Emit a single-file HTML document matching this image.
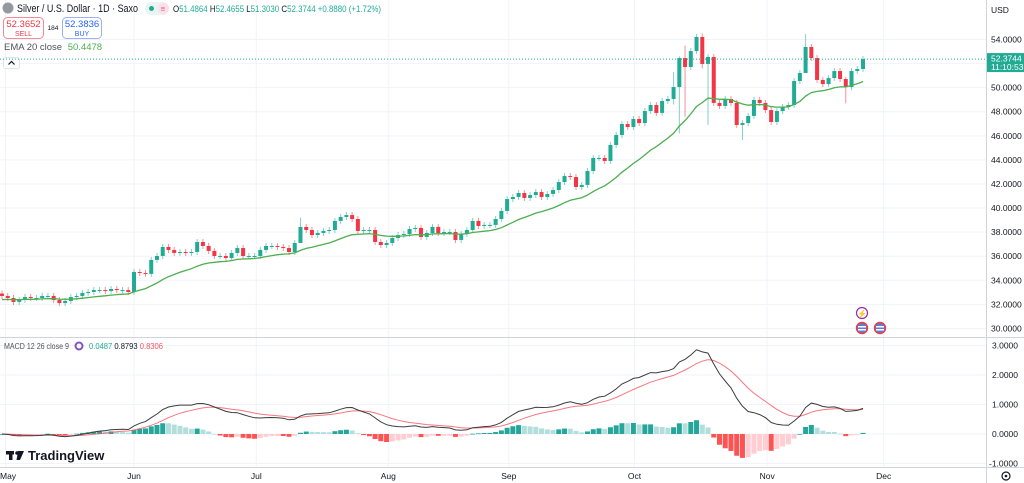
<!DOCTYPE html>
<html><head><meta charset="utf-8">
<style>
html,body{margin:0;padding:0;background:#fff;}
body{width:1024px;height:483px;overflow:hidden;font-family:"Liberation Sans",sans-serif;}
svg{display:block;}
text{font-family:"Liberation Sans",sans-serif;}
</style></head>
<body>
<svg id="chart" width="1024" height="483" viewBox="0 0 1024 483" xmlns="http://www.w3.org/2000/svg">
  <g id="grid"></g>
  <g id="candles"></g>
  <g id="ema"></g>
  <g id="macd"></g>
  <g id="axes"></g>

  <line x1="0" y1="337.5" x2="1024" y2="337.5" stroke="#d1d4dc" stroke-width="1"/>
  <line x1="986.5" y1="0" x2="986.5" y2="483" stroke="#d1d4dc" stroke-width="1"/>
  <line x1="0" y1="467.5" x2="1024" y2="467.5" stroke="#d1d4dc" stroke-width="1"/>

  <g>
    <circle cx="8" cy="8" r="5.5" fill="#9598a1"/>
    <text x="17" y="12" font-size="11" fill="#131722" textLength="121" lengthAdjust="spacingAndGlyphs">Silver / U.S. Dollar · 1D · Saxo</text>
    <rect x="145" y="2" width="24" height="13" rx="6.5" fill="#e8f5f2"/>
    <circle cx="151.5" cy="8.5" r="2.5" fill="#22ab94"/>
    <rect x="158" y="3" width="11" height="11" rx="5" fill="#fbe0ea"/>
    <text x="160.5" y="11.5" font-size="8" fill="#e0557a">≡</text>
    <text x="173" y="12" font-size="9.5" fill="#22ab94" textLength="208" lengthAdjust="spacingAndGlyphs"><tspan fill="#131722">O</tspan>51.4864 <tspan fill="#131722">H</tspan>52.4655 <tspan fill="#131722">L</tspan>51.3030 <tspan fill="#131722">C</tspan>52.3744 +0.8880 (+1.72%)</text>
  </g>
  <g>
    <rect x="3.5" y="17.5" width="40" height="21" rx="4" fill="#fff" stroke="#f28b94"/>
    <text x="23.5" y="27" font-size="9.5" fill="#f23645" text-anchor="middle">52.3652</text>
    <text x="23.5" y="36" font-size="7" fill="#f23645" text-anchor="middle">SELL</text>
  </g>
  <text x="53" y="30" font-size="6.5" fill="#131722" text-anchor="middle">184</text>
  <g>
    <rect x="62.5" y="17.5" width="39" height="21" rx="4" fill="#fff" stroke="#9bb3f5"/>
    <text x="82" y="27" font-size="9.5" fill="#2962ff" text-anchor="middle">52.3836</text>
    <text x="82" y="36" font-size="7" fill="#2962ff" text-anchor="middle">BUY</text>
  </g>
  <text x="4" y="50" font-size="9.5" fill="#50535e">EMA 20 close <tspan fill="#4caf50" dx="3">50.4478</tspan></text>
  <g>
    <rect x="3.5" y="57.5" width="16" height="11" rx="2" fill="#fff" stroke="#e0e3eb"/>
    <path d="M8.5 64.5 L11.5 61.5 L14.5 64.5" fill="none" stroke="#131722" stroke-width="1.2"/>
  </g>
  <text x="991" y="13" font-size="8.5" fill="#131722">USD</text>

  <line id="lastLine" x1="0" x2="986" stroke="#22ab94" stroke-dasharray="1,2" stroke-width="1"/>
  <g id="lastLabel"></g>

  <g>
    <circle cx="862" cy="313" r="5.5" fill="#fff" stroke="#9c27b0" stroke-width="1.2"/>
    <text x="862" y="316.5" font-size="8" fill="#9c27b0" text-anchor="middle">⚡</text>
  </g>
  <g>
    <circle cx="862" cy="328" r="5.5" fill="#5b7fd6" stroke="#f23645" stroke-width="1.4"/>
    <rect x="858" y="326" width="8" height="1.5" fill="#fff"/><rect x="858" y="329" width="8" height="1.5" fill="#fff"/>
  </g>
  <g>
    <circle cx="880" cy="328" r="5.5" fill="#5b7fd6" stroke="#f23645" stroke-width="1.4"/>
    <rect x="876" y="326" width="8" height="1.5" fill="#fff"/><rect x="876" y="329" width="8" height="1.5" fill="#fff"/>
  </g>

  <text x="4" y="349" font-size="8.5" fill="#50535e" textLength="65" lengthAdjust="spacingAndGlyphs">MACD 12 26 close 9</text>
  <circle cx="79" cy="346" r="3.5" fill="none" stroke="#7e57c2" stroke-width="2"/>
  <text x="89" y="349" font-size="8.5" fill="#22ab94" textLength="74" lengthAdjust="spacingAndGlyphs">0.0487 <tspan fill="#131722">0.8793</tspan> <tspan fill="#f7525f">0.8306</tspan></text>

  <g>
    <rect x="6" y="451" width="8" height="3.5" fill="#131722"/>
    <rect x="9" y="451" width="3.5" height="9" fill="#131722"/>
    <circle cx="17" cy="453" r="1.8" fill="#131722"/>
    <path d="M18 451 L24 451 L20 460 L16.5 460 Z" fill="#131722"/>
    <text x="28" y="460" font-size="13" font-weight="bold" fill="#131722">TradingView</text>
  </g>
  <g>
    <circle cx="1006" cy="476" r="4" fill="none" stroke="#131722" stroke-width="1.2"/>
    <circle cx="1006" cy="476" r="1.3" fill="#131722"/>
  </g>
</svg>
<script>
// ---- data ----
const closes = [
32.70,32.53,32.20,32.36,32.61,32.53,32.53,32.70,32.70,32.36,32.11,32.28,32.61,32.70,32.95,33.03,33.19,33.19,33.11,33.28,33.19,33.19,33.03,
34.69,34.61,34.53,35.69,36.02,36.77,36.52,36.27,36.35,36.27,36.35,37.18,36.85,36.44,36.02,36.02,35.85,36.27,36.68,36.02,36.02,36.02,36.52,36.85,36.85,36.77,36.68,36.35,37.10,38.43,38.18,37.76,37.93,38.10,38.18,38.93,39.26,39.42,39.09,38.10,38.18,38.18,37.18,36.93,37.10,37.51,37.76,37.85,38.26,38.35,37.60,37.93,38.43,37.93,38.01,38.01,37.35,37.85,38.18,38.93,38.51,38.60,38.60,39.09,39.76,40.75,40.92,41.25,40.84,41.08,41.33,40.92,41.17,41.50,
42.16,42.66,42.58,41.75,41.92,43.08,44.16,44.16,43.91,45.24,46.07,46.98,46.73,47.40,47.06,48.06,48.56,47.90,48.89,49.06,50.05,52.46,51.72,53.04,54.21,51.97,52.55,48.73,48.48,49.06,48.73,46.90,
47.06,47.65,48.98,48.73,48.14,47.15,48.06,48.39,48.56,50.55,51.22,53.38,52.46,50.64,50.30,50.80,51.38,50.72,50.05,51.38,51.55,52.3744
];
const firstOpen = 32.90;
const wickOverrides = [[52,39.2,38.0],[117,51.3,48.6],[118,52.6,46.2],[119,53.5,47.6],[122,54.5,51.6],[123,52.8,46.9],[129,47.3,45.65],[140,54.46,52.6],[147,50.9,48.7]];
const priceTicks = [30,32,34,36,38,40,42,44,46,48,50,52,54];
const macdTicks = [-1,0,1,2,3];
const monthLabels = ["May","Jun","Jul","Aug","Sep","Oct","Nov","Dec"];
const monthStartIdx = [0.6,23,44.3,67.3,88.3,110.2,133.3,153.6];

const X0 = 2, STEP = 5.74;
const xOf = i => X0 + i * STEP;
const yP = p => 39.5 + (54 - p) * 12.04;
const yM = v => 434 - v * 29.5;
const NS = "http://www.w3.org/2000/svg";
function mk(tag, attrs, parent){const e=document.createElementNS(NS,tag);for(const k in attrs)e.setAttribute(k,attrs[k]);parent.appendChild(e);return e;}

const grid = document.getElementById('grid');
const axes = document.getElementById('axes');
priceTicks.forEach(p=>{
  const l = mk('line',{x1:0,x2:986,y1:yP(p),y2:yP(p),stroke:'#f0f3fa'},grid);
  
  
  const t = mk('text',{x:991,y:yP(p)+3,'font-size':8.5,fill:'#131722'},axes);
  t.textContent = p.toFixed(4);
  
  
});
macdTicks.forEach(v=>{
  const l = mk('line',{x1:0,x2:986,y1:yM(v),y2:yM(v),stroke:'#f0f3fa'},grid);
  
  
  const t = mk('text',{x:v<0?989:992,y:yM(v)+3,'font-size':8.5,fill:'#131722'},axes);
  t.textContent = v.toFixed(4);
  
  
});
monthLabels.forEach((m,k)=>{
  const x = xOf(monthStartIdx[k]);
  const l = mk('line',{x1:x,x2:x,y1:0,y2:467,stroke:'#f0f3fa'},grid);
  
  
  const t = mk('text',{x:k===0?0:x,y:479,'font-size':8.5,fill:'#131722','text-anchor':k===0?'start':'middle'},axes);
  t.textContent = m;
  
  
});

const cg = document.getElementById('candles');
const wmap = {}; wickOverrides.forEach(w=>wmap[w[0]]=w);
closes.forEach((c,i)=>{
  const o = i===0 ? firstOpen : closes[i-1];
  const up = c >= o;
  const col = up ? '#22ab94' : '#f23645';
  let hi = Math.max(o,c)+0.25, lo = Math.min(o,c)-0.25;
  if (wmap[i]) { hi = wmap[i][1]; lo = wmap[i][2]; }
  const x = xOf(i);
  const w = mk('line',{x1:x,x2:x,y1:yP(hi),y2:yP(lo),stroke:col,'stroke-width':1,opacity:0.55},cg);
  
  
  const top = yP(Math.max(o,c)), bot = yP(Math.min(o,c));
  const b = mk('rect',{x:x-2,y:top,width:4,height:Math.max(1,bot-top),fill:col},cg);
  
  
});

function ema(arr,n){const k=2/(n+1);const out=[];let e=arr[0];arr.forEach((v,i)=>{e=i===0?v:v*k+e*(1-k);out.push(e);});return out;}
const ema20 = ema(closes.map((c,i)=>i===0?c-0.3:c),20);
const eg = document.getElementById('ema');
const ep = mk('path',{d:ema20.map((v,i)=>(i?'L':'M')+xOf(i).toFixed(1)+' '+yP(v).toFixed(1)).join(' '),fill:'none',stroke:'#4caf50','stroke-width':1.3},eg);



const e12 = ema(closes,12), e26 = ema(closes,26);
const macdLine = closes.map((_,i)=>e12[i]-e26[i]);
const signal = ema(macdLine,9);
const hist = macdLine.map((v,i)=>v-signal[i]);
const mg = document.getElementById('macd');
hist.forEach((h,i)=>{
  const prev = i ? hist[i-1] : 0;
  let col;
  if (h>=0) col = h>=prev ? '#26a69a' : '#b2dfdb';
  else col = h<prev ? '#ff5252' : '#ffcdd2';
  const y1 = yM(Math.max(h,0)), y2 = yM(Math.min(h,0));
  const r = mk('rect',{x:xOf(i)-2.5,y:y1,width:5,height:Math.max(0.8,y2-y1),fill:col},mg);
  
  
});
const sp = mk('path',{d:signal.map((v,i)=>(i?'L':'M')+xOf(i).toFixed(1)+' '+yM(v).toFixed(1)).join(' '),fill:'none',stroke:'#f7525f','stroke-width':1,opacity:0.8},mg);


const mp = mk('path',{d:macdLine.map((v,i)=>(i?'L':'M')+xOf(i).toFixed(1)+' '+yM(v).toFixed(1)).join(' '),fill:'none',stroke:'#3c3c3c','stroke-width':1},mg);



const last = closes[closes.length-1];
const ll = document.getElementById('lastLine');
ll.setAttribute('y1',yP(last)); ll.setAttribute('y2',yP(last));
const lab = document.getElementById('lastLabel');
mk('rect',{x:987,y:yP(last)-6,width:37,height:19,fill:'#22ab94'},lab);
const t1 = mk('text',{x:991,y:yP(last)+2.5,'font-size':8.5,fill:'#fff'},lab); t1.textContent = last.toFixed(4);
const t2 = mk('text',{x:991,y:yP(last)+11,'font-size':8.5,fill:'#fff'},lab); t2.textContent = '11:10:53';
</script>
</body></html>
